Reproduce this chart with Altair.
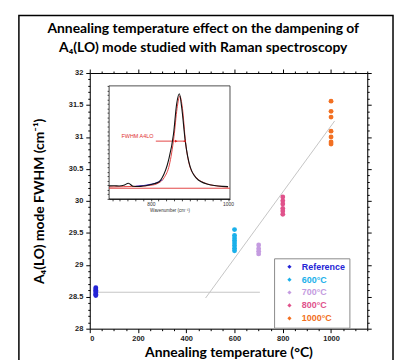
import altair as alt
import pandas as pd

# ---------------- data ----------------
series = ["Reference", "600°C", "700°C", "800°C", "1000°C"]
colors = ["#2424d6", "#1ab0ea", "#c49be0", "#e0528b", "#f27022"]
temps = [25, 600, 700, 800, 1000]
fwhm_values = [
    [28.64, 28.62, 28.60, 28.58, 28.56, 28.54, 28.52],
    [29.55, 29.46, 29.42, 29.38, 29.34, 29.30, 29.26, 29.22],
    [29.31, 29.25, 29.21, 29.17],
    [30.06, 30.00, 29.95, 29.88, 29.84, 29.79],
    [31.56, 31.40, 31.31, 31.09, 31.00, 30.92, 30.89],
]
ref_line_x = [25, 705]
ref_line_y = [28.57, 28.57]
trend_x = [480, 1015]
trend_y = [28.48, 31.25]

x_major = [0, 200, 400, 600, 800, 1000]
title_lines = ["Annealing temperature effect on the dampening of",
               "A₄(LO) mode studied with Raman spectroscopy"]

# inset spectrum (wavenumber cm-1, normalised intensity)
spec_wn = [692, 705, 718, 730, 742, 754, 769, 795, 821, 829, 846, 859, 867, 874, 880, 889, 902, 923, 956, 1000]
spec_black = [0.115, 0.116, 0.114, 0.12, 0.138, 0.112, 0.11, 0.123, 0.149, 0.184, 0.342, 0.579, 0.842, 0.93, 0.81, 0.518, 0.283, 0.167, 0.123, 0.108]
fit_wn = [692, 730, 770, 800, 820, 835, 848, 860, 868, 875, 882, 890, 900, 915, 940, 970, 1000]
fit_red = [0.105, 0.108, 0.112, 0.12, 0.14, 0.19, 0.3, 0.55, 0.8, 0.91, 0.8, 0.5, 0.3, 0.2, 0.14, 0.115, 0.105]
blue_wn = [760, 780, 800, 815, 830]
blue_val = [0.112, 0.118, 0.128, 0.142, 0.17]
base_wn = [692, 1005]
base_val = [0.094, 0.094]
fwhm_arrow_wn = [813, 889]
fwhm_arrow_y = [0.511, 0.511]
inset_x_domain = [692, 1005]

# ---------------- tables ----------------
rows = []
for s, t, vals in zip(series, temps, fwhm_values):
    for v in vals:
        rows.append({"series": s, "temp": t, "fwhm": v})
pts = pd.DataFrame(rows)

lines = pd.DataFrame(
    [{"line": "ref", "temp": x, "fwhm": y} for x, y in zip(ref_line_x, ref_line_y)]
    + [{"line": "trend", "temp": x, "fwhm": y} for x, y in zip(trend_x, trend_y)]
)

x_ticks = [v for v in range(0, 1151, 50)]
y_ticks = [round(28 + 0.1 * i, 1) for i in range(41)]
inset_ticks = [v for v in range(700, 1001, 20)]

LBL = "Liberation Sans"
TTL = "Lato"

xscale = alt.Scale(domain=[0, 1150], nice=False, zero=False)
yscale = alt.Scale(domain=[28, 32], nice=False, zero=False)

x_axis = alt.Axis(
    values=x_ticks,
    labelExpr="indexof([" + ",".join(str(v) for v in x_major) + "], datum.value) >= 0 ? format(datum.value, 'd') : ''",
    tickSize=alt.ExprRef("datum.value % 200 == 0 ? 4 : 2"),
    labelFont=LBL, labelFontSize=7.5, labelFontWeight="bold", labelColor="#222",
    labelPadding=2, grid=False, domainColor="black", tickColor="black",
    title="Annealing temperature (°C)", titleFont=TTL, titleFontSize=14,
    titleFontWeight="bold", titleColor="black", titlePadding=4,
)
y_axis = alt.Axis(
    values=y_ticks,
    labelExpr="abs(datum.value*2 - round(datum.value*2)) < 0.001 ? format(datum.value, '~g') : ''",
    tickSize=alt.ExprRef("abs(datum.value*2 - round(datum.value*2)) < 0.001 ? 4 : 2"),
    labelFont=LBL, labelFontSize=7.5, labelFontWeight="bold", labelColor="#222",
    labelPadding=3, grid=False, domainColor="black", tickColor="black",
    title="A₄(LO) mode FWHM (cm⁻¹)", titleFont=TTL, titleFontSize=14,
    titleFontWeight="bold", titleColor="black", titlePadding=22,
)

label_color_expr = (
    "datum.label == 'Reference' ? '" + colors[0] + "' : "
    "datum.label == '600°C' ? '" + colors[1] + "' : "
    "datum.label == '700°C' ? '" + colors[2] + "' : "
    "datum.label == '800°C' ? '" + colors[3] + "' : '" + colors[4] + "'"
)

line_layer = alt.Chart(lines).mark_line(color="#c4c4c4", strokeWidth=1).encode(
    x=alt.X("temp:Q", scale=xscale, axis=x_axis),
    y=alt.Y("fwhm:Q", scale=yscale, axis=y_axis),
    detail="line:N",
)
point_layer = alt.Chart(pts).mark_circle(size=24, opacity=1).encode(
    x=alt.X("temp:Q", scale=xscale, axis=x_axis),
    y=alt.Y("fwhm:Q", scale=yscale, axis=y_axis),
    color=alt.Color(
        "series:N",
        scale=alt.Scale(domain=series, range=colors),
        sort=series,
        legend=alt.Legend(
            orient="none", legendX=186, legendY=187, title=None,
            strokeColor="#8a8a8a", fillColor="white", padding=4,
            symbolOffset=7, symbolSize=18, symbolType="diamond",
            labelFont=LBL, labelFontSize=9, labelFontWeight="bold",
            labelColor=alt.ExprRef(label_color_expr), labelOffset=8, rowPadding=3,
        ),
    ),
)
main = alt.layer(line_layer, point_layer)

# ---------------- inset ----------------
ix = alt.Scale(domain=inset_x_domain, range=[19.5, 141.5], nice=False, zero=False)
iy = alt.Scale(domain=[0, 1], range=[127, 13], nice=False, zero=False)
ix_axis = alt.Axis(
    orient="bottom", offset=-131, values=inset_ticks,
    labelExpr="datum.value == 800 || datum.value == 1000 ? format(datum.value, 'd') : ''",
    tickSize=2, labelFont=LBL, labelFontSize=5, labelColor="#333", labelPadding=1,
    grid=False, domainColor="black", tickColor="#444",
    title="Wavenumber (cm⁻¹)", titleFont=LBL, titleFontSize=4.5, titleFontWeight="normal",
    titleColor="#333", titlePadding=1,
)
iy_axis = alt.Axis(
    orient="left", offset=-19.5, values=[round(0.04 * i, 2) for i in range(26)],
    labels=False, tickSize=2, grid=False, domainColor="black", tickColor="#444", title=None,
)

spec_df = pd.DataFrame(
    [{"curve": "blue", "wn": w, "v": v} for w, v in zip(blue_wn, blue_val)]
    + [{"curve": "black", "wn": w, "v": v} for w, v in zip(spec_wn, spec_black)]
)
fit_df = pd.DataFrame(
    [{"curve": "fit", "wn": w, "v": v} for w, v in zip(fit_wn, fit_red)]
    + [{"curve": "base", "wn": w, "v": v} for w, v in zip(base_wn, base_val)]
    + [{"curve": "arrow", "wn": w, "v": v} for w, v in zip(fwhm_arrow_wn, fwhm_arrow_y)]
)
frame_df = pd.DataFrame({"x": [inset_x_domain[0]], "x2": [inset_x_domain[1]], "y": [0], "y2": [1]})
heads_df = pd.DataFrame({"wn": [866, 887], "v": [0.511, 0.511], "shape": ["triangle-right", "triangle-left"]})
lab_df = pd.DataFrame({"wn": [724], "v": [0.53], "t": ["FWHM A4LO"]})

frame = alt.Chart(frame_df).mark_rect(fill="white", stroke="#222", strokeWidth=0.8).encode(
    x=alt.X("x:Q", scale=ix, axis=ix_axis), x2="x2:Q",
    y=alt.Y("y:Q", scale=iy, axis=iy_axis), y2="y2:Q",
)
black_blue = alt.Chart(spec_df).mark_line(strokeWidth=1.1, interpolate="monotone").encode(
    x=alt.X("wn:Q", scale=ix, axis=ix_axis),
    y=alt.Y("v:Q", scale=iy, axis=iy_axis),
    detail="curve:N",
    color=alt.Color("curve:N", scale=alt.Scale(domain=["blue", "black"], range=["#4a3ad0", "#111111"]), legend=None),
)
red_lines = alt.Chart(fit_df).mark_line(strokeWidth=0.9, color="#e03030", interpolate="monotone").encode(
    x=alt.X("wn:Q", scale=ix, axis=ix_axis),
    y=alt.Y("v:Q", scale=iy, axis=iy_axis),
    detail="curve:N",
)
heads = alt.Chart(heads_df).mark_point(filled=True, size=9, color="#e02020", opacity=1).encode(
    x=alt.X("wn:Q", scale=ix, axis=ix_axis),
    y=alt.Y("v:Q", scale=iy, axis=iy_axis),
    shape=alt.Shape("shape:N", scale=None),
)
label = alt.Chart(lab_df).mark_text(align="left", baseline="bottom", fontSize=5.5, font=LBL, color="#e03030").encode(
    x=alt.X("wn:Q", scale=ix, axis=ix_axis),
    y=alt.Y("v:Q", scale=iy, axis=iy_axis),
    text="t:N",
)
inset = alt.layer(frame, red_lines, black_blue, heads, label)

# ---------------- mirrored frame ticks (top/right), border, title ----------------
mirror = alt.Chart(pts).mark_circle(opacity=0).encode(
    x=alt.X("temp:Q", scale=xscale, axis=alt.Axis(
        orient="top", values=x_ticks, labels=False, title=None, grid=False,
        tickSize=alt.ExprRef("datum.value % 200 == 0 ? 4 : 2"),
        domainColor="black", tickColor="black")),
    y=alt.Y("fwhm:Q", scale=yscale, axis=alt.Axis(
        orient="right", values=y_ticks, labels=False, title=None, grid=False,
        tickSize=alt.ExprRef("abs(datum.value*2 - round(datum.value*2)) < 0.001 ? 4 : 2"),
        domainColor="black", tickColor="black")),
)
one = pd.DataFrame({"a": [0]})
border = alt.Chart(one).mark_rect(fill=None, stroke="black", strokeWidth=1.5).encode(
    x=alt.value(-71.5), x2=alt.value(306), y=alt.value(-58), y2=alt.value(330),
)
title1 = alt.Chart(one).mark_text(
    text=title_lines[0], font=TTL, fontSize=14, fontWeight="bold", color="black",
    align="center", baseline="alphabetic",
).encode(x=alt.value(114.5), y=alt.value(-40))
title2 = alt.Chart(one).mark_text(
    text=title_lines[1], font=TTL, fontSize=14, fontWeight="bold", color="black",
    align="center", baseline="alphabetic",
).encode(x=alt.value(114.5), y=alt.value(-21))
mirror_layer = alt.layer(mirror, border, title1, title2)

chart = (
    alt.layer(main, inset, mirror_layer)
    .resolve_scale(x="independent", y="independent", color="independent")
    .properties(
        width=280, height=258,
        padding={"left": 82.5, "top": 64, "right": 27, "bottom": 30},
        autosize=alt.AutoSizeParams(type="none"),
    )
    .configure_view(stroke="black", strokeWidth=1)
    .configure(background="white")
)

chart.save("out.html", embed_options={"renderer": "svg", "actions": False})
